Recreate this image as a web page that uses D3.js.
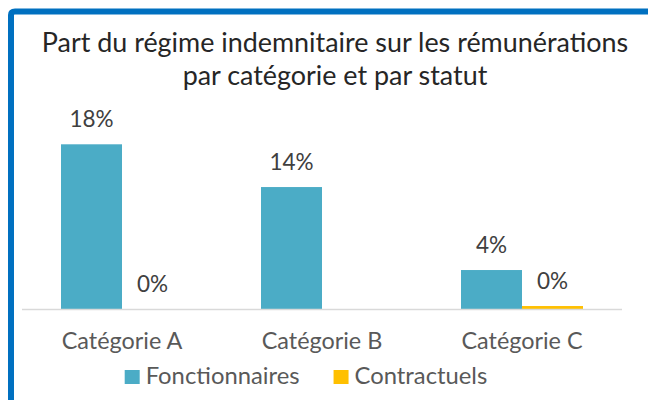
<!DOCTYPE html>
<html>
<head>
<meta charset="utf-8">
<script src="https://cdn.jsdelivr.net/npm/d3@7"></script>
<style>
  html, body { margin: 0; padding: 0; background: #fff; }
  svg { display: block; font-family: Lato, "Open Sans", sans-serif; }
</style>
</head>
<body>
<svg id="chart" width="648" height="400"></svg>
<script>
/* data */
const categories = ["Catégorie A", "Catégorie B", "Catégorie C"];
const seriesNames = ["Fonctionnaires", "Contractuels"];
const fonctionnaires = [0.183, 0.1355, 0.0433];
const contractuels = [0, null, 0.0033];
const titleLines = ["Part du régime indemnitaire sur les rémunérations", "par catégorie et par statut"];
const colors = ["#4BACC6", "#FFC000"];

const svg = d3.select("#chart");

/* blue frame, open on the right and bottom */
svg.append("path")
  .attr("d", "M11,400 V15 Q11,11.5 15,11.5 H648")
  .attr("fill", "none")
  .attr("stroke", "#0070C0")
  .attr("stroke-width", 6);

/* title */
svg.append("text")
  .attr("x", 335).attr("y", 52)
  .attr("text-anchor", "middle")
  .attr("fill", "#262626")
  .style("font-size", "26.9px")
  .selectAll("tspan").data(titleLines).join("tspan")
  .attr("x", 335).attr("dy", (d, i) => i ? 33 : 0)
  .text(d => d);

/* scales */
const x0 = d3.scaleBand().domain(categories).range([22, 622])
  .paddingInner(0.39).paddingOuter(0.195);
const x1 = d3.scaleBand().domain(seriesNames).range([0, x0.bandwidth()]);
const y = d3.scaleLinear().domain([0, 0.2]).range([309, 129]);
const pct = d3.format(".0%");

const rows = [];
categories.forEach((c, i) => {
  rows.push({ cat: c, s: seriesNames[0], v: fonctionnaires[i], col: colors[0] });
  rows.push({ cat: c, s: seriesNames[1], v: contractuels[i], col: colors[1] });
});
const present = rows.filter(d => d.v != null);

/* bars */
svg.append("g").selectAll("rect").data(present).join("rect")
  .attr("x", d => x0(d.cat) + x1(d.s))
  .attr("y", d => y(d.v))
  .attr("width", x1.bandwidth())
  .attr("height", d => y(0) - y(d.v))
  .attr("fill", d => d.col);

/* baseline */
svg.append("line")
  .attr("x1", x0.range()[0]).attr("x2", x0.range()[1])
  .attr("y1", y(0) + 0.5).attr("y2", y(0) + 0.5)
  .attr("stroke", "#D9D9D9").attr("stroke-width", 1.3);

/* data labels */
svg.append("g").selectAll("text").data(present).join("text")
  .attr("x", d => x0(d.cat) + x1(d.s) + x1.bandwidth() / 2)
  .attr("y", d => y(d.v) - 17)
  .attr("text-anchor", "middle")
  .attr("fill", "#404040")
  .style("font-size", "22.5px")
  .text(d => pct(d.v));

/* category axis */
const xAxis = d3.axisBottom(x0).tickSize(0).tickPadding(23);
const gx = svg.append("g").attr("transform", `translate(0,${y(0)})`).call(xAxis);
gx.select(".domain").remove();
gx.selectAll("text")
  .attr("fill", "#595959")
  .style("font-size", "23.4px")
  .style("font-family", "Lato, 'Open Sans', sans-serif");

/* legend */
const legend = svg.append("g");
const items = legend.selectAll("g").data(seriesNames).join("g");
items.append("rect").attr("width", 15).attr("height", 14).attr("y", -14)
  .attr("fill", (d, i) => colors[i]);
items.append("text").attr("x", 21).attr("y", 0)
  .attr("fill", "#595959").style("font-size", "23.8px")
  .text(d => d);
let cursor = 0;
items.each(function () {
  d3.select(this).attr("transform", `translate(${cursor},0)`);
  cursor += this.getBBox().width + 34;
});
const legendW = cursor - 34;
legend.attr("transform", `translate(${306 - legendW / 2},384)`);
</script>
</body>
</html>
